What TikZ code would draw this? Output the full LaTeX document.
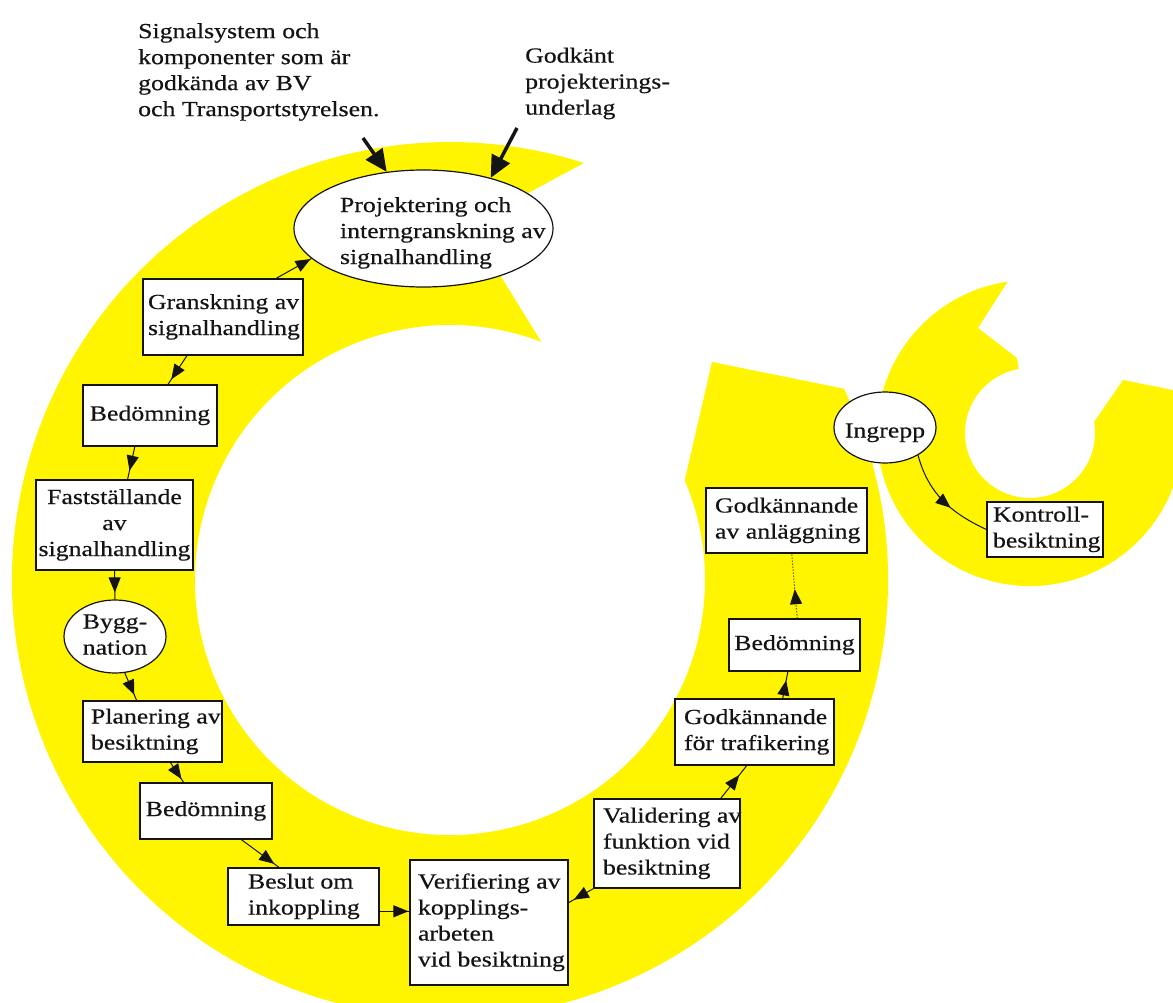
\documentclass[tikz,border=0pt]{standalone}
\usepackage{fontspec}
\setmainfont{Liberation Serif}[FakeStretch=1.2,FakeBold=0.4]
\usetikzlibrary{arrows.meta,shapes.geometric,decorations.markings,calc}
\definecolor{ring}{RGB}{255,245,0}
\definecolor{ink}{RGB}{20,20,20}
% zero-size text block: #1 horizontal offset, #2 vertical offset, #3 alignment (l/c), #4 lines
\newcommand{\ztxt}[4]{\smash{\makebox[0pt][#3]{\hspace*{#1}\raisebox{#2}{\begin{tabular}{@{}#3@{}}#4\end{tabular}}}}}
\begin{document}
\begin{tikzpicture}[x=1pt,y=1pt,
  every node/.style={font=\fontsize{21.5}{26}\selectfont, text=ink},
  boxn/.style={draw=ink, fill=white, line width=1.2pt, rectangle, inner sep=0pt},
  oval/.style={draw=ink, fill=white, line width=1.2pt, ellipse, inner sep=0pt},
  conn/.style={draw=ink, line width=1pt, postaction={decorate},
    decoration={markings, mark=at position #1 with {\arrow{Triangle[length=15pt,width=12pt]}}}},
  conn/.default=1,
  dconn/.style={conn=#1, dotted},
  bigarr/.style={draw=ink, line width=3.5pt, -{Triangle[length=22pt,width=20pt]}},
  plain/.style={anchor=north west, inner sep=0pt, align=left}
]
\fill[white] (0,0) rectangle (1173,-1003);
\begin{scope}
  \clip (0,0) rectangle (1173,-1003);
  % big ring
  \fill[ring] ($(450,-580)+(25.9:438)$) arc[start angle=25.9, end angle=-287.8, radius=438]
    -- (469,-225) -- ($(450,-580)+(69:255)$) arc[start angle=69, end angle=383, radius=255]
    -- (712,-362) -- cycle;
  % small ring
  \fill[ring] ($(1030,-433)+(16:153)$) arc[start angle=16, end angle=-261.6, radius=153]
    -- (978,-328) -- (1017,-358) -- ($(1030,-433)+(100:65)$) arc[start angle=100, end angle=369.8, radius=65]
    -- (1123,-380) -- cycle;
\end{scope}

% top texts
\node[plain] (sig) at (138,-23) {Signalsystem och\\komponenter som är\\godkända av BV\\och Transportstyrelsen.};
\node[plain] (godk) at (525,-47.5) {Godkänt\\projekterings-\\underlag};

% nodes
\node[oval, minimum width=259pt, minimum height=117pt] (proj) at (423.5,-228.5)
  {\ztxt{-83.5pt}{-9.5pt}{l}{Projektering och\\interngranskning av\\signalhandling}};
\node[boxn, minimum width=160pt, minimum height=76pt] (gransk) at (223,-317)
  {\ztxt{-75pt}{-5pt}{l}{Granskning av\\signalhandling}};
\node[boxn, minimum width=134pt, minimum height=61pt] (bed1) at (150,-415.5)
  {\ztxt{0pt}{-5pt}{c}{Bedömning}};
\node[boxn, minimum width=157pt, minimum height=90pt] (fast) at (114.5,-525)
  {\ztxt{0pt}{-5pt}{c}{Fastställande\\av\\signalhandling}};
\node[oval, minimum width=102pt, minimum height=73pt] (bygg) at (115,-636.5)
  {\ztxt{0pt}{-5pt}{c}{Bygg-\\nation}};
\node[boxn, minimum width=139pt, minimum height=61pt] (plan) at (152.5,-731.5)
  {\ztxt{-61.5pt}{-5pt}{l}{Planering av\\besiktning}};
\node[boxn, minimum width=132pt, minimum height=56pt] (bed2) at (206,-811)
  {\ztxt{0pt}{-5pt}{c}{Bedömning}};
\node[boxn, minimum width=151pt, minimum height=57pt] (beslut) at (303.5,-896.5)
  {\ztxt{-55.5pt}{-5pt}{l}{Beslut om\\inkoppling}};
\node[boxn, minimum width=158pt, minimum height=125pt] (verif) at (489,-922.5)
  {\ztxt{-71pt}{-5pt}{l}{Verifiering av\\kopplings-\\arbeten\\vid besiktning}};
\node[boxn, minimum width=146pt, minimum height=89pt] (valid) at (667,-843.5)
  {\ztxt{-64pt}{-5pt}{l}{Validering av\\funktion vid\\besiktning}};
\node[boxn, minimum width=159pt, minimum height=66pt] (godtraf) at (754.5,-732)
  {\ztxt{-70.5pt}{-5pt}{l}{Godkännande\\för trafikering}};
\node[boxn, minimum width=131pt, minimum height=52pt] (bed3) at (794.5,-645)
  {\ztxt{0pt}{-5pt}{c}{Bedömning}};
\node[boxn, minimum width=161pt, minimum height=65pt] (godanl) at (786.5,-520.5)
  {\ztxt{-71.5pt}{-5pt}{l}{Godkännande\\av anläggning}};
\node[oval, minimum width=102pt, minimum height=71pt] (ingrepp) at (885,-427.5)
  {\ztxt{0pt}{-10pt}{c}{Ingrepp}};
\node[boxn, minimum width=116pt, minimum height=55pt] (kontroll) at (1045,-529.5)
  {\ztxt{-52pt}{-5pt}{l}{Kontroll-\\besiktning}};

% input arrows
\coordinate (s1) at (363,-138);
\coordinate (s2) at (517,-128);
\draw[bigarr] (s1) -- (proj.123);
\draw[bigarr] (s2) -- (proj.37);

% connectors
\draw[conn=-1pt] (gransk.36) -- (proj.195);
\draw[conn=-6pt] (gransk.227) -- (bed1.60);
\draw[conn=-9pt] (bed1.244) -- (fast.74.5);
\draw[conn=-7pt] (fast.south) -- (bygg.north);
\draw[conn=-6pt] (bygg.285) -- (plan.117);
\draw[conn=-4pt] (plan.300) -- (bed2.128);
\draw[conn=-6pt] (bed2.321) -- (beslut.130.7);
\draw[conn=-1pt] (beslut.-11.6) -- (beslut.-11.6 -| verif.west);
\draw[conn=-6pt] (valid.south west) -- (verif.14.5);
\draw[conn=-12pt] (valid.40.6) -- (godtraf.257.6);
\draw[conn=-9pt] (godtraf.50) -- (bed3.256);
\draw[dconn=0.45] (bed3.84.5) -- (godanl.279.6);
\draw[conn=0.6] (ingrepp.-40) to[out=-75, in=155] (kontroll.west);
\end{tikzpicture}
\end{document}
